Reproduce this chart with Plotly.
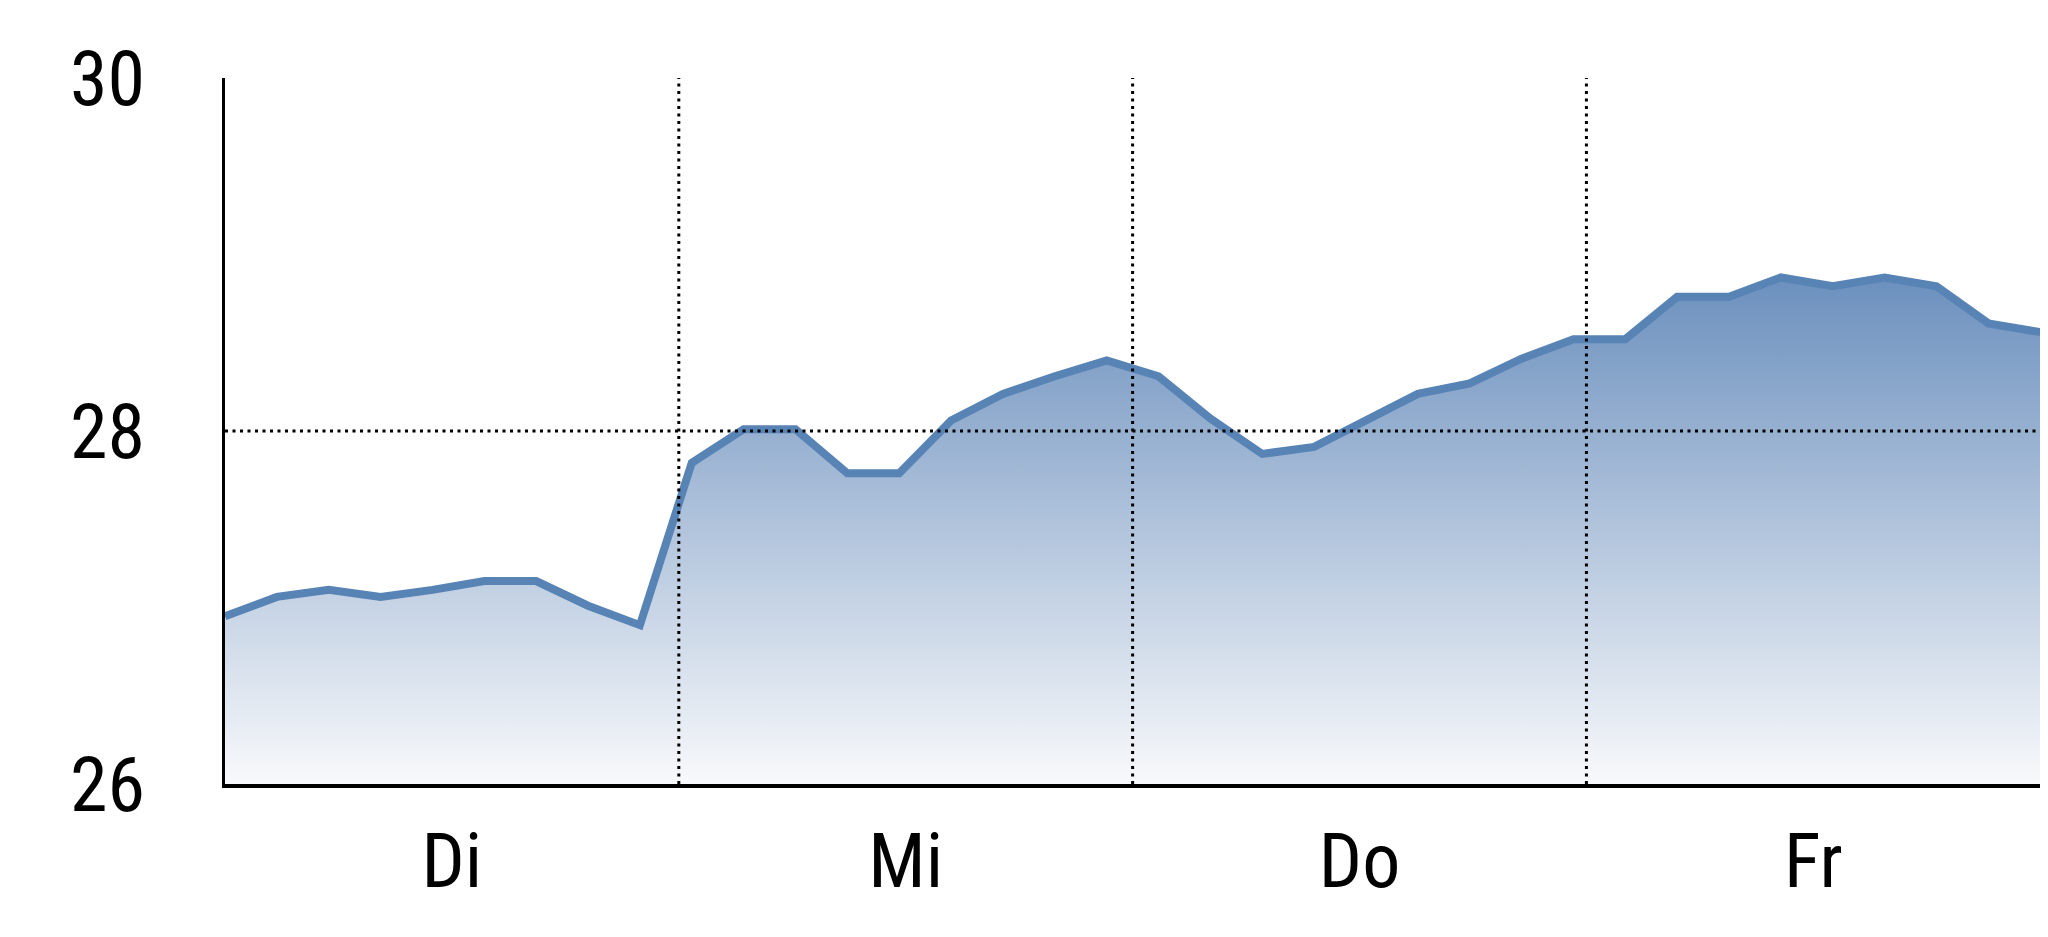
import plotly.graph_objects as go

# Data (approximate readings from the reference chart)
days = ["Di", "Mi", "Do", "Fr"]
points_per_day = 8.75
values = [
    26.95, 27.06, 27.10, 27.06, 27.10, 27.15, 27.15, 27.01, 26.90,
    27.82, 28.01, 28.01, 27.76, 27.76, 28.06, 28.21, 28.31, 28.40,
    28.31, 28.07, 27.87, 27.91, 28.06, 28.21, 28.27, 28.41, 28.52,
    28.52, 28.76, 28.76, 28.87, 28.82, 28.87, 28.82, 28.61, 28.56,
]
y_ticks = [26, 28, 30]
grid_levels = [28]

x = list(range(len(values)))
day_centers = [(i + 0.5) * points_per_day for i in range(len(days))]
day_bounds = [(i + 1) * points_per_day for i in range(len(days) - 1)]

FONT = "Liberation Sans Narrow, Roboto Condensed, Arial Narrow, Liberation Sans, sans-serif"
DOT = dict(color="black", width=3, dash="3px,4.5px")

fig = go.Figure()
fig.add_trace(go.Scatter(
    x=x, y=values, mode="lines",
    line=dict(color="rgb(88,131,181)", width=8),
    fill="tozeroy",
    fillgradient=dict(
        type="vertical",
        start=26, stop=28.9,
        colorscale=[[0, "rgb(248,249,251)"], [1, "rgb(106,143,189)"]],
    ),
    hoverinfo="skip",
))

shapes = []
for b in day_bounds:
    shapes.append(dict(type="line", xref="x", yref="paper", x0=b, x1=b,
                       y0=0, y1=1, line=DOT, layer="above"))
for g in grid_levels:
    shapes.append(dict(type="line", xref="paper", yref="y", x0=0, x1=1,
                       y0=g, y1=g, line=DOT, layer="above"))

# page body adds an 8px margin, so margins are shifted accordingly
fig.update_layout(
    width=2040, height=900,
    margin=dict(l=217, r=0, t=70, b=124),
    paper_bgcolor="white", plot_bgcolor="white",
    showlegend=False,
    font=dict(family=FONT, size=76, color="black"),
    shapes=shapes,
)
fig.update_xaxes(
    range=[0, 35.15],
    tickmode="array", tickvals=day_centers, ticktext=days,
    showgrid=False, zeroline=False,
    showline=True, linecolor="black", linewidth=4, layer="above traces",
    ticks="", ticklabelstandoff=8,
)
fig.update_yaxes(
    range=[26, 30],
    tickmode="array", tickvals=y_ticks, ticktext=[str(v) for v in y_ticks],
    showgrid=False, zeroline=False,
    showline=True, linecolor="black", linewidth=2.5, layer="above traces",
    ticks="", ticklabelstandoff=62,
)

fig.write_html("out.html")
